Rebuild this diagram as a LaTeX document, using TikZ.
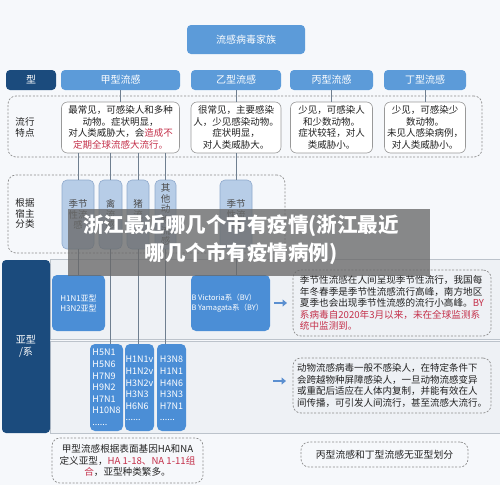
\documentclass[tikz,border=0pt]{standalone}
\usepackage{fontspec}
\setmainfont{Noto Sans CJK SC}
\usetikzlibrary{arrows.meta}
\definecolor{bgc}{HTML}{F6F8FB}
\definecolor{midblue}{HTML}{5C9BD9}
\definecolor{hblue}{HTML}{4B8ED6}
\definecolor{darkblue}{HTML}{1B4B7D}
\definecolor{hostfill}{HTML}{B7CDE7}
\definecolor{hostdraw}{HTML}{8FA9CC}
\definecolor{linec}{HTML}{6F7F90}
\definecolor{bandfill}{HTML}{EEF1F5}
\definecolor{banddraw}{HTML}{BCC3CB}
\definecolor{myred}{HTML}{C4304A}
\definecolor{dashc}{HTML}{8C8C8C}
\definecolor{txtc}{HTML}{222222}
\definecolor{arrowc}{HTML}{5B8FD0}
\begin{document}
\begin{tikzpicture}[x=1pt,y=-1pt,
  base/.style={inner sep=0pt, outer sep=0pt, anchor=center},
  bluebox/.style={base, fill=midblue, rounded corners=4pt, text=white, font=\fontsize{10}{12}\selectfont},
  darkbox/.style={base, fill=darkblue, rounded corners=4pt, text=white, font=\fontsize{10}{12}\selectfont, align=center},
  hbox/.style={base, fill=hblue, rounded corners=5pt, text=white},
  descbox/.style={base, fill=white, draw=black!40, line width=0.6pt, rounded corners=6pt, align=center, text=txtc, font=\fontsize{9.5}{11.6}\selectfont},
  dashbox/.style={base, draw=dashc, line width=0.7pt, dash pattern=on 2pt off 1.6pt, rounded corners=8pt},
  hostbox/.style={base, fill=hostfill, draw=hostdraw, line width=0.6pt, rounded corners=5pt, align=center, text=black!70, font=\fontsize{9.5}{10.6}\selectfont},
  band/.style={base, fill=bandfill, draw=banddraw, line width=0.6pt},
  conn/.style={draw=linec, line width=0.5pt},
  blockarrow/.style={draw=arrowc, line width=2.6pt, -{Triangle[length=4.5pt,width=7pt]}},
  lbl/.style={base, align=center, text=txtc, font=\fontsize{9.5}{10.8}\selectfont},
  para/.style={align=left, text=txtc, font=\fontsize{9.6}{11.5}\selectfont}
]
\useasboundingbox (0,0) rectangle (500,485);
\fill[bgc] (0,0) rectangle (500,485);

% header
\node[bluebox, minimum width=118pt, minimum height=29pt] (family) at (246,39.5) {流感病毒家族};
\node[darkbox, minimum width=50pt, minimum height=20pt] (typelbl) at (31,80) {型};
\node[bluebox, minimum width=119pt, minimum height=20pt] (typeA) at (120.5,80) {甲型流感};
\node[bluebox, minimum width=90pt, minimum height=20pt] (typeB) at (236,80) {乙型流感};
\node[bluebox, minimum width=83pt, minimum height=20pt] (typeC) at (331.5,80) {丙型流感};
\node[bluebox, minimum width=82pt, minimum height=20pt] (typeD) at (425,80) {丁型流感};

% row 2
\node[dashbox, minimum width=474pt, minimum height=61pt] (row2) at (245,126.5) {};
\node[lbl] (lbl2) at (25,127) {流行\\特点};
\node[descbox, minimum width=118pt, minimum height=51pt] (textA) at (120.5,127.5) {最常见，可感染人和多种\\动物。症状明显，\\对人类威胁大，会\textcolor{myred}{造成不}\\\textcolor{myred}{定期全球流感大流行。}};
\node[descbox, minimum width=90pt, minimum height=51pt] (textB) at (236,127.5) {很常见，主要感染\\人，少见感染动物。\\症状明显，\\对人类威胁大。};
\node[descbox, minimum width=82pt, minimum height=51pt] (textC) at (331.5,127.5) {少见，可感染人\\和少数动物。\\症状较轻，对人\\类威胁小。};
\node[descbox, minimum width=81pt, minimum height=51pt] (textD) at (425,127.5) {少见，可感染少\\数动物。\\未见人感染病例，\\对人类威胁小。};

% row 3
\node[dashbox, minimum width=277pt, minimum height=78pt] (row3) at (146.5,214) {};
\node[lbl] (lbl3) at (25,213.5) {根据\\宿主\\分类};
\node[hostbox, minimum width=32pt, minimum height=69pt] (hostA1) at (78,214.5) {季节\\性流\\感};
\node[hostbox, minimum width=23pt, minimum height=69pt] (hostA2) at (110.5,214.5) {禽\\流\\感};
\node[hostbox, minimum width=22pt, minimum height=69pt] (hostA3) at (138,214.5) {猪\\流\\感};
\node[hostbox, minimum width=21pt, minimum height=69pt] (hostA4) at (165.5,214.5) {其\\他\\动\\物\\流\\感};
\node[hostbox, minimum width=32pt, minimum height=69pt] (hostB) at (236,214.5) {季节\\性流\\感};

% row 4 bands
\node[band, minimum width=450pt, minimum height=80pt] (bandTop) at (275,299) {};
\node[band, minimum width=450pt, minimum height=92pt] (bandBot) at (275,387) {};
\node[darkbox, minimum width=48pt, minimum height=173pt] (subtype) at (26,346.5) {亚型\\/系};

\node[hbox, minimum width=53pt, minimum height=56pt, align=center, font=\fontsize{8}{10}\selectfont] (h1n1) at (78.5,303) {H1N1亚型\\H3N2亚型};
\node[hbox, minimum width=79pt, minimum height=56pt, align=left, font=\fontsize{7.5}{10}\selectfont] (bvy) at (230.5,303) {\hspace*{-6pt}B Victoria系（BV）\\\hspace*{-6pt}B Yamagata系（BY）};
\node[dashbox, minimum width=198pt, minimum height=66pt, para] (seasonText) at (392,303) {季节性流感在人间呈现季节性流行，我国每\\年冬春季是季节性流感流行高峰，南方地区\\夏季也会出现季节性流感的流行小高峰。\textcolor{myred}{BY}\\\textcolor{myred}{系病毒自2020年3月以来，未在全球监测系}\\\textcolor{myred}{统中监测到。}};

\node[hbox, minimum width=33pt, minimum height=87pt, align=left, font=\fontsize{9}{11.6}\selectfont] (lowA) at (106.5,387.5) {H5N1\\H5N6\\H7N9\\H9N2\\H7N1\\H10N8\\......};
\node[hbox, minimum width=29pt, minimum height=87pt, align=left, font=\fontsize{9}{11.6}\selectfont, anchor=north] (lowB) at (139.5,344) {\rule{0pt}{9pt}H1N1v\\H1N2v\\H3N2v\\H3N3\\H6N6\\......};
\node[hbox, minimum width=29pt, minimum height=87pt, align=left, font=\fontsize{9}{11.6}\selectfont, anchor=north] (lowC) at (171.5,344) {\rule{0pt}{9pt}H3N8\\H1N1\\H4N6\\H3N3\\H7N1\\......};
\node[dashbox, minimum width=198pt, minimum height=55pt, para, font=\fontsize{9.5}{11.7}\selectfont] (animalText) at (392,385.5) {动物流感病毒一般不感染人，在特定条件下\\会跨越物种屏障感染人，一旦动物流感变异\\或重配后适应在人体内复制，并能有效在人\\间传播，可引发人间流行，甚至流感大流行。};

% bottom notes
\node[dashbox, minimum width=151pt, minimum height=45pt, align=center, text=txtc, font=\fontsize{9.6}{11.5}\selectfont] (noteA) at (127.5,460.5) {甲型流感根据表面基因HA和NA\\定义亚型，\textcolor{myred}{HA 1-18、NA 1-11组}\\\textcolor{myred}{合}，亚型种类繁多。};
\node[dashbox, minimum width=167pt, minimum height=25pt, text=txtc, font=\fontsize{9.8}{12}\selectfont] (noteB) at (384.5,454.5) {丙型流感和丁型流感无亚型划分};

% connectors
\draw[conn] (typeA.south) -- (textA.north);
\draw[conn] (typeB.south) -- (textB.north);
\draw[conn] (typeC.south) -- (textC.north);
\draw[conn] (typeD.south) -- (textD.north);
\draw[conn] (textA.south -| hostA1.north) -- (hostA1.north);
\draw[conn] (textA.south -| hostA2.north) -- (hostA2.north);
\draw[conn] (textA.south -| hostA3.north) -- (hostA3.north);
\draw[conn] (textA.south -| hostA4.north) -- (hostA4.north);
\draw[conn] (textB.south) -- (hostB.north);
\draw[conn] (hostA1.south) -- (hostA1.south |- h1n1.north);
\draw[conn] (hostA2.south) -- (hostA2.south |- lowA.north);
\draw[conn] (hostA3.south) -- (hostA3.south |- lowB.north);
\draw[conn] (hostA4.south) -- (hostA4.south |- lowC.north);
\draw[conn] (hostB.south) -- (hostB.south |- bvy.north);

% arrows
\draw[blockarrow, shorten <=4pt, shorten >=6pt] (bvy.east) -- (seasonText.west);
\coordinate (a2s) at (273,381);
\draw[blockarrow, shorten >=7pt] (a2s) -- (animalText.west |- a2s);

% overlay banner
\node[base, fill={rgb,255:red,105;green,105;blue,105}, fill opacity=0.78, minimum width=362pt, minimum height=67pt] (banner) at (249,242.5) {};
\node[base, align=center, text=white, font=\fontsize{20.5}{28}\selectfont\bfseries] (bannerText) at (241,240) {浙江最近哪几个市有疫情(浙江最近\\哪几个市有疫情病例)};
\end{tikzpicture}
\end{document}
